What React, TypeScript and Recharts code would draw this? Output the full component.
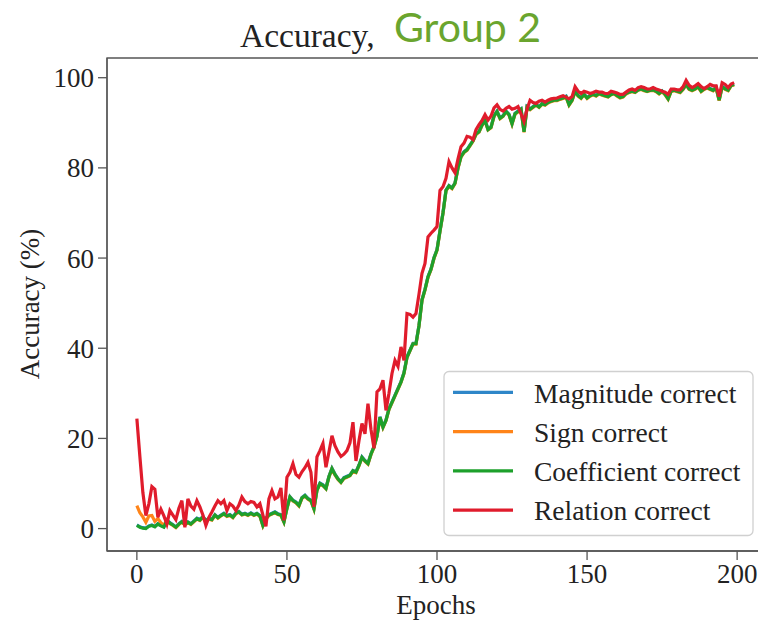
// Accuracy per epoch for the four "correct" metrics, drawn as a matplotlib-style line plot.
import { LineChart, Line, XAxis, YAxis, ReferenceArea } from 'recharts';

const magnitude = [
  0.8, 0.4, 0.2, 0.1, 0.6, 0.8, 0.5, 1.1, 0.7, 0.4,
  1.9, 1.3, 0.9, 0.4, 1.1, 1.6, 1.0, 1.5, 1.1, 1.7,
  2.3, 2.0, 2.7, 1.8, 2.3, 2.1, 3.1, 2.5, 3.0, 3.4,
  2.9, 3.1, 2.6, 3.5, 3.8, 3.2, 3.4, 3.1, 3.5, 3.1,
  3.4, 2.9, 0.8, 2.3, 3.1, 3.4, 3.7, 3.3, 3.1, 1.6,
  4.6, 7.1, 6.3, 5.9, 5.2, 6.9, 7.4, 6.7, 6.3, 4.5,
  8.6, 10.1, 9.7, 9.0, 11.6, 13.4, 12.1, 11.1, 10.4, 11.3,
  11.6, 11.9, 12.9, 12.6, 14.1, 15.9, 15.1, 14.5, 16.6, 18.2,
  20.6, 24.8, 22.6, 24.1, 26.6, 28.1, 29.6, 31.1, 32.6, 34.6,
  38.1, 39.6, 41.1, 41.1, 45.1, 50.8, 53.1, 55.9, 57.6, 60.1,
  61.9, 66.1, 70.1, 75.1, 76.1, 75.6, 76.7, 80.1, 82.6, 83.6,
  84.1, 85.1, 86.1, 87.6, 88.1, 89.6, 90.6, 88.6, 89.1, 91.6,
  92.6, 91.1, 91.6, 92.6, 91.9, 89.9, 92.1, 92.6, 93.1, 88.1,
  93.6, 93.1, 93.6, 94.1, 93.6, 94.3, 94.1, 94.6, 94.9, 95.1,
  95.1, 95.4, 95.6, 95.9, 94.1, 95.1, 97.1, 96.1, 95.6, 96.4,
  95.6, 96.1, 96.4, 96.1, 96.6, 96.3, 96.1, 95.9, 96.4, 96.6,
  96.1, 95.7, 95.9, 96.6, 96.9, 97.1, 96.9, 97.4, 97.6, 97.3,
  97.1, 97.3, 97.4, 97.1, 96.6, 97.1, 96.4, 95.4, 97.1, 97.3,
  97.1, 96.9, 97.6, 98.6, 97.6, 97.3, 97.6, 98.1, 97.1, 97.6,
  97.9, 97.6, 97.3, 97.9, 95.1, 98.1, 97.6, 97.3, 98.4, 98.6,
];

const sign = [
  5.1, 3.5, 2.6, 1.4, 2.8, 2.9, 1.6, 2.2, 1.3, 0.8,
  1.7, 1.1, 0.7, 0.2, 0.9, 1.4, 0.8, 1.3, 0.9, 1.5,
  2.1, 1.8, 2.5, 1.6, 2.1, 1.9, 2.9, 2.3, 2.8, 3.2,
  2.7, 2.9, 2.4, 3.3, 3.6, 3.0, 3.2, 2.9, 3.3, 2.9,
  3.2, 2.7, 0.6, 2.1, 2.9, 3.2, 3.5, 3.1, 2.9, 1.4,
  4.4, 6.9, 6.1, 5.7, 5.0, 6.7, 7.2, 6.5, 6.1, 4.3,
  8.4, 9.9, 9.5, 8.8, 11.4, 13.2, 11.9, 10.9, 10.2, 11.1,
  11.4, 11.7, 12.7, 12.4, 13.9, 15.7, 14.9, 14.3, 16.4, 18.0,
  20.4, 24.6, 22.4, 23.9, 26.4, 27.9, 29.4, 30.9, 32.4, 34.4,
  37.9, 39.4, 40.9, 40.9, 44.9, 50.6, 52.9, 55.7, 57.4, 59.9,
  61.7, 65.9, 69.9, 74.9, 75.9, 75.4, 76.5, 79.9, 82.4, 83.4,
  83.9, 84.9, 85.9, 87.4, 87.9, 89.4, 90.4, 88.4, 88.9, 91.4,
  92.4, 90.9, 91.4, 92.4, 91.7, 89.7, 91.9, 92.4, 92.9, 87.9,
  93.4, 92.9, 93.4, 93.9, 93.4, 94.1, 93.9, 94.4, 94.7, 94.9,
  94.9, 95.2, 95.4, 95.7, 93.9, 94.9, 96.9, 95.9, 95.4, 96.2,
  95.4, 95.9, 96.2, 95.9, 96.4, 96.1, 95.9, 95.7, 96.2, 96.4,
  95.9, 95.5, 95.7, 96.4, 96.7, 96.9, 96.7, 97.2, 97.4, 97.1,
  96.9, 97.1, 97.2, 96.9, 96.4, 96.9, 96.2, 95.2, 96.9, 97.1,
  96.9, 96.7, 97.4, 98.4, 97.4, 97.1, 97.4, 97.9, 96.9, 97.4,
  97.7, 97.4, 97.1, 97.7, 94.9, 97.9, 97.4, 97.1, 98.2, 98.4,
];

const coefficient = [
  0.7, 0.3, 0.1, 0.0, 0.5, 0.7, 0.4, 1.0, 0.6, 0.3,
  1.8, 1.2, 0.8, 0.3, 1.0, 1.5, 0.9, 1.4, 1.0, 1.6,
  2.2, 1.9, 2.6, 1.7, 2.2, 2.0, 3.0, 2.4, 2.9, 3.3,
  2.8, 3.0, 2.5, 3.4, 3.7, 3.1, 3.3, 3.0, 3.4, 3.0,
  3.3, 2.8, 0.7, 2.2, 3.0, 3.3, 3.6, 3.2, 3.0, 1.5,
  4.5, 7.0, 6.2, 5.8, 5.1, 6.8, 7.3, 6.6, 6.2, 4.4,
  8.5, 10.0, 9.6, 8.9, 11.5, 13.3, 12.0, 11.0, 10.3, 11.2,
  11.5, 11.8, 12.8, 12.5, 14.0, 15.8, 15.0, 14.4, 16.5, 18.1,
  20.5, 24.7, 22.5, 24.0, 26.5, 28.0, 29.5, 31.0, 32.5, 34.5,
  38.0, 39.5, 41.0, 41.0, 45.0, 50.7, 53.0, 55.8, 57.5, 60.0,
  61.8, 66.0, 70.0, 75.0, 76.0, 75.5, 76.6, 80.0, 82.5, 83.5,
  84.0, 85.0, 86.0, 87.5, 88.0, 89.5, 90.5, 88.5, 89.0, 91.5,
  92.5, 91.0, 91.5, 92.5, 91.8, 89.8, 92.0, 92.5, 93.0, 88.0,
  93.5, 93.0, 93.5, 94.0, 93.5, 94.2, 94.0, 94.5, 94.8, 95.0,
  95.0, 95.3, 95.5, 95.8, 94.0, 95.0, 97.0, 96.0, 95.5, 96.3,
  95.5, 96.0, 96.3, 96.0, 96.5, 96.2, 96.0, 95.8, 96.3, 96.5,
  96.0, 95.6, 95.8, 96.5, 96.8, 97.0, 96.8, 97.3, 97.5, 97.2,
  97.0, 97.2, 97.3, 97.0, 96.5, 97.0, 96.3, 95.3, 97.0, 97.2,
  97.0, 96.8, 97.5, 98.5, 97.5, 97.2, 97.5, 98.0, 97.0, 97.5,
  97.8, 97.5, 97.2, 97.8, 95.0, 98.0, 97.5, 97.2, 98.3, 98.5,
];

const relation = [
  24.4, 16.0, 8.0, 2.9, 5.5, 9.3, 8.7, 2.5, 4.3, 2.8,
  1.0, 4.0, 3.0, 2.0, 4.5, 6.2, 0.3, 6.6, 5.0, 4.3,
  6.2, 4.8, 3.0, 0.7, 2.5, 3.7, 5.0, 6.2, 5.5, 6.2,
  4.0, 5.5, 5.0, 4.0, 5.2, 7.0, 6.0, 5.5, 6.0, 5.8,
  4.8, 5.5, 3.0, 0.5, 6.6, 8.4, 6.6, 7.0, 9.0, 1.8,
  11.4, 12.5, 14.4, 12.0, 11.4, 12.6, 13.5, 14.7, 12.5, 4.8,
  15.9, 17.3, 18.9, 13.6, 17.0, 20.6, 18.4, 17.0, 16.0, 16.5,
  17.3, 19.0, 23.6, 15.0, 19.5, 23.3, 21.0, 27.7, 22.0, 17.8,
  30.3, 31.0, 32.9, 26.2, 30.0, 34.4, 37.3, 36.0, 40.3, 37.3,
  47.7, 47.5, 46.9, 47.7, 52.0, 56.6, 58.8, 64.7, 65.5, 66.2,
  67.0, 75.0, 75.8, 77.7, 81.4, 80.0, 78.9, 82.0, 84.7, 85.5,
  87.0, 86.8, 86.3, 88.5, 89.6, 90.5, 91.8, 90.6, 91.5, 93.3,
  94.0, 93.0, 92.6, 93.2, 93.6, 93.0, 93.2, 93.6, 92.0, 90.3,
  93.0, 95.0, 94.5, 94.3, 94.8, 95.0, 94.6, 95.0, 95.3, 95.4,
  95.5, 95.8, 96.0, 95.7, 95.3, 95.8, 98.0, 97.0, 96.5, 97.0,
  96.8, 96.5, 96.7, 97.0, 96.8, 96.8, 96.5, 96.5, 97.0, 96.8,
  96.6, 96.3, 96.3, 96.8, 97.3, 97.5, 97.2, 97.8, 98.0, 97.8,
  97.5, 97.5, 97.8, 97.5, 97.3, 97.0, 96.8, 96.3, 97.5, 97.5,
  97.3, 97.3, 98.0, 99.4, 98.3, 97.8, 98.2, 98.7, 98.0, 97.6,
  98.0, 98.5, 98.2, 98.2, 95.8, 98.9, 98.5, 97.8, 98.6, 98.9,
];

const xTicks = [0, 50, 100, 150, 200];
const yTicks = [0, 20, 40, 60, 80, 100];

const series = [
  { key: 'magnitude', name: 'Magnitude correct', color: '#2f86c8' },
  { key: 'sign', name: 'Sign correct', color: '#ff8419' },
  { key: 'coefficient', name: 'Coefficient correct', color: '#1da02b' },
  { key: 'relation', name: 'Relation correct', color: '#e01c2c' },
];

const rows = relation.map((_, i) => ({
  epoch: i, magnitude: magnitude[i], sign: sign[i], coefficient: coefficient[i], relation: relation[i],
}));

// matplotlib auto-limits: 5% margin on each side of the data range
const xDomain: [number, number] = [-9.95, 208.95];
const yDomain: [number, number] = [-4.97, 104.37];

const serif = '"Liberation Serif", "DejaVu Serif", serif';
const tick = { fill: '#222', fontSize: 27, fontFamily: serif };
const axisLine = { stroke: '#555', strokeWidth: 1.3 };
const tickLine = { stroke: '#555', strokeWidth: 1.3 };

export default function App() {
  return (
    <div style={{ position: 'absolute', left: 0, top: 0, width: 758, height: 623, overflow: 'hidden', background: '#fff' }}>
      <LineChart width={768} height={623} data={rows} margin={{ top: 58, right: 4, bottom: 42, left: 0 }}>
        <XAxis dataKey="epoch" type="number" domain={xDomain} ticks={xTicks} allowDataOverflow
          height={30} tickSize={9} tickMargin={4} tick={tick} axisLine={axisLine} tickLine={tickLine} />
        <YAxis type="number" domain={yDomain} ticks={yTicks} allowDataOverflow
          width={107} tickSize={9} tickMargin={4} tick={tick} axisLine={axisLine} tickLine={tickLine} />
        <ReferenceArea x1={xDomain[0]} x2={xDomain[1]} y1={yDomain[0]} y2={yDomain[1]}
          fill="none" stroke="#555" strokeWidth={1.3} ifOverflow="visible" />
        {series.map((s) => (
          <Line key={s.key} type="linear" dataKey={s.key} name={s.name} stroke={s.color}
            strokeWidth={3.2} dot={false} isAnimationActive={false} />
        ))}
      </LineChart>

      <svg width={758} height={623} style={{ position: 'absolute', left: 0, top: 0, pointerEvents: 'none' }}>
        <text x={240} y={47} fontFamily={serif} fontSize={33.5} fill="#222">Accuracy,</text>
        <text x={394} y={42} fontFamily="Lato, 'Open Sans', sans-serif" fontSize={41} fill="#6aa52e">Group 2</text>
        <text x={436} y={614} textAnchor="middle" fontFamily={serif} fontSize={27} fill="#222">Epochs</text>
        <text transform="translate(39,304) rotate(-90)" textAnchor="middle" fontFamily={serif} fontSize={27} fill="#222">Accuracy (%)</text>

        <rect x={444} y={371.5} width={309} height={164} rx={5} fill="#fff" fillOpacity={0.85} stroke="#d0d0d0" strokeWidth={1.3} />
        {series.map((s, i) => (
          <g key={s.key}>
            <line x1={453} x2={513} y1={392.3 + i * 39.3} y2={392.3 + i * 39.3} stroke={s.color} strokeWidth={3.2} />
            <text x={534} y={402.5 + i * 39.3} fontFamily={serif} fontSize={27.5} fill="#222">{s.name}</text>
          </g>
        ))}
      </svg>
    </div>
  );
}
